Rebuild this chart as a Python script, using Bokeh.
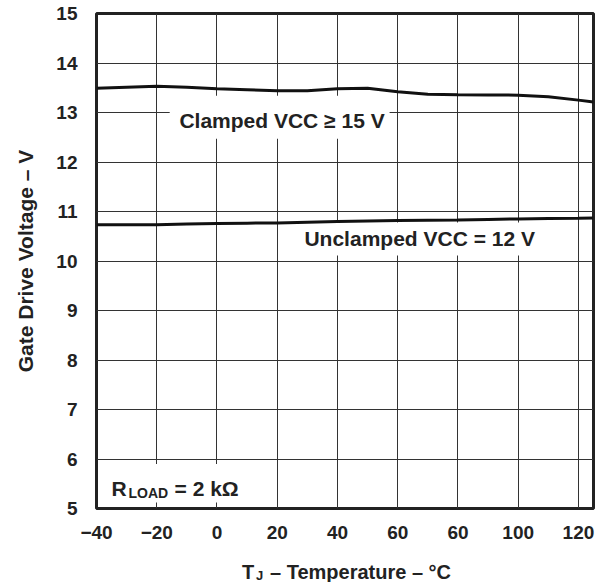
from bokeh.plotting import figure
from bokeh.layouts import column
from bokeh.models import Label, FixedTicker, ColumnDataSource
from bokeh.embed import file_html
from bokeh.resources import INLINE

# ---- data ----
temp_c = [-40, -30, -20, -10, 0, 10, 20, 30, 40, 50, 60, 70, 80, 90, 100, 110, 120, 125]
clamped_v = [13.49, 13.51, 13.53, 13.51, 13.48, 13.46, 13.44, 13.44, 13.48, 13.49,
             13.42, 13.37, 13.36, 13.355, 13.35, 13.32, 13.25, 13.21]
unclamped_v = [10.73, 10.73, 10.73, 10.745, 10.76, 10.765, 10.77, 10.785, 10.80, 10.81,
               10.82, 10.825, 10.83, 10.84, 10.85, 10.86, 10.865, 10.87]

x_ticks = [-40, -20, 0, 20, 40, 60, 80, 100, 120]
x_tick_labels = ["\u221240", "\u221220", "0", "20", "40", "60", "60", "100", "120"]
y_ticks = [5, 6, 7, 8, 9, 10, 11, 12, 13, 14, 15]
y_tick_labels = [str(v) for v in y_ticks]

clamped_text = "Clamped VCC \u2265 15 V"
unclamped_text = "Unclamped VCC = 12 V"
y_title = "Gate Drive Voltage \u2013 V"

FONT = "Liberation Sans"
INK = "#222222"

p = figure(width=606, height=545, x_range=(-40, 125), y_range=(5, 15),
           output_backend="svg", toolbar_location=None,
           min_border_left=96, min_border_right=13, min_border_top=13, min_border_bottom=37)
p.background_fill_color = "white"
p.border_fill_color = "white"
p.outline_line_color = INK
p.outline_line_width = 3

# grid
p.xgrid.ticker = FixedTicker(ticks=x_ticks)
p.ygrid.ticker = FixedTicker(ticks=y_ticks)
for g in (p.xgrid, p.ygrid):
    g.grid_line_color = "#333333"
    g.grid_line_width = 1

# axes
p.xaxis.ticker = FixedTicker(ticks=x_ticks)
p.xaxis.major_label_overrides = {t: l for t, l in zip(x_ticks, x_tick_labels)}
p.yaxis.ticker = FixedTicker(ticks=y_ticks)
p.yaxis.major_label_overrides = {t: l for t, l in zip(y_ticks, y_tick_labels)}
for ax in (p.xaxis[0], p.yaxis[0]):
    ax.axis_line_color = None
    ax.major_tick_line_color = None
    ax.minor_tick_line_color = None
    ax.major_tick_out = 0
    ax.major_tick_in = 0
    ax.major_label_text_font = FONT
    ax.major_label_text_font_style = "bold"
    ax.major_label_text_font_size = "19px"
    ax.major_label_text_color = INK
p.xaxis.major_label_standoff = 17
p.yaxis.major_label_standoff = 19
p.yaxis.axis_label = y_title
p.yaxis.axis_label_text_font = FONT
p.yaxis.axis_label_text_font_style = "bold"
p.yaxis.axis_label_text_font_size = "21px"
p.yaxis.axis_label_text_color = INK
p.yaxis.axis_label_standoff = 16

# white backgrounds behind the in-plot labels (interrupt the grid)
boxes = ColumnDataSource(dict(left=[-15.7, 26.0, -39.0], right=[57.3, 107.7, 9.3],
                              bottom=[12.47, 10.11, 5.12], top=[13.34, 10.78, 5.9]))
p.quad(left="left", right="right", bottom="bottom", top="top", source=boxes,
       fill_color="white", line_color=None)

# curves
p.line(temp_c, clamped_v, line_color="#111111", line_width=3)
p.line(temp_c, unclamped_v, line_color="#111111", line_width=3)


def lab(fig, x, y, text, size="21px", align="left", baseline="alphabetic", xo=0, yo=0):
    fig.add_layout(Label(x=x, y=y, text=text, text_font=FONT, text_font_style="bold",
                         text_font_size=size, text_color=INK, text_align=align,
                         text_baseline=baseline, x_offset=xo, y_offset=yo))


lab(p, 21.6, 12.83, clamped_text, align="center", baseline="middle")
lab(p, 67.3, 10.45, unclamped_text, align="center", baseline="middle")

# R_LOAD = 2 kΩ
lab(p, -35.0, 5.40, "R")
lab(p, -35.0, 5.40, "LOAD", size="14px", xo=17, yo=-4)
lab(p, -35.0, 5.40, "= 2 k\u03a9", xo=63)

# x axis title strip (shares the temperature axis): T_J – Temperature – °C
t = figure(width=606, height=37, x_range=p.x_range, y_range=(0, 37),
           output_backend="svg", toolbar_location=None,
           x_axis_type=None, y_axis_type=None,
           min_border_left=0, min_border_right=0, min_border_top=0, min_border_bottom=0)
t.grid.visible = False
t.outline_line_color = None
t.background_fill_color = "white"
t.border_fill_color = "white"
lab(t, 8.3, 10.3, "T", size="20px")
lab(t, 8.3, 10.3, "J", size="13px", xo=14, yo=-3)
lab(t, 8.3, 10.3, "\u2013 Temperature \u2013 \u00b0C", size="20px", xo=28)

layout = column(p, t, spacing=0)
open("out.html", "w").write(file_html(layout, INLINE))
